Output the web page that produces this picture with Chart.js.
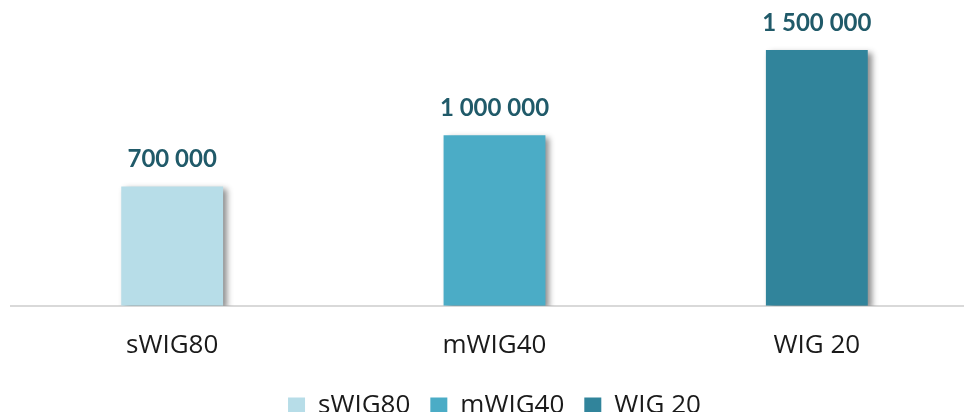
<!DOCTYPE html>
<html>
<head>
<meta charset="utf-8">
<script src="https://cdn.jsdelivr.net/npm/chart.js@4/dist/chart.umd.min.js"></script>
<style>
    html, body { margin: 0; padding: 0; background: #fff; overflow: hidden; }
    #wrap { width: 978px; height: 429px; }
</style>
</head>
<body>
<div id="wrap"><canvas id="indexChart"></canvas></div>
<script>
const categories = ['sWIG80', 'mWIG40', 'WIG 20'];
const values = [700000, 1000000, 1500000];
const barColors = ['#b7dde8', '#4bacc6', '#31849b'];

function formatValue(v) {
    return String(v).replace(/\B(?=(\d{3})+(?!\d))/g, ' ');
}

// bar shadow + value labels above bars
const barExtras = {
    id: 'barExtras',
    beforeDatasetsDraw(chart) {
        const ctx = chart.ctx;
        ctx.save();
        ctx.shadowColor = 'rgba(0, 0, 0, 0.45)';
        ctx.shadowBlur = 6;
        ctx.shadowOffsetX = 4;
        ctx.shadowOffsetY = 3;
    },
    afterDatasetsDraw(chart) {
        const ctx = chart.ctx;
        ctx.restore();
        ctx.save();
        ctx.font = 'bold 24px Lato';
        ctx.fillStyle = '#205a69';
        ctx.textAlign = 'center';
        ctx.textBaseline = 'alphabetic';
        chart.getDatasetMeta(0).data.forEach((bar, i) => {
            ctx.fillText(formatValue(values[i]), bar.x, bar.y - 19);
        });
        ctx.restore();
    }
};

new Chart(document.getElementById('indexChart').getContext('2d'), {
    type: 'bar',
    data: {
        labels: categories,
        datasets: [{
            label: 'Wartość',
            data: values,
            backgroundColor: barColors,
            borderWidth: 0,
            categoryPercentage: 1,
            barPercentage: 0.316
        }]
    },
    options: {
        responsive: true,
        maintainAspectRatio: false,
        animation: false,
        layout: { padding: { top: 33, left: 11, right: 0, bottom: 0 } },
        plugins: {
            tooltip: { enabled: false },
            legend: {
                position: 'bottom',
                labels: {
                    boxWidth: 17,
                    boxHeight: 17,
                    padding: 20,
                    color: '#1a1a1a',
                    font: { family: 'Open Sans', size: 26 },
                    generateLabels: chart => categories.map((c, i) => ({
                        text: c,
                        fillStyle: barColors[i],
                        strokeStyle: barColors[i],
                        lineWidth: 0,
                        fontColor: '#1a1a1a',
                        index: i
                    }))
                }
            }
        },
        scales: {
            x: {
                grid: { display: false, drawTicks: false },
                border: { display: true, color: '#d9d9d9', width: 2 },
                ticks: {
                    color: '#1a1a1a',
                    padding: 24,
                    font: { family: 'Open Sans', size: 26 }
                },
                // pull the legend a bit closer to the axis labels
                afterFit: scale => { scale.height -= 12; }
            },
            y: {
                display: false,
                min: 0,
                max: 1600000
            }
        }
    },
    plugins: [barExtras]
});
</script>
</body>
</html>
